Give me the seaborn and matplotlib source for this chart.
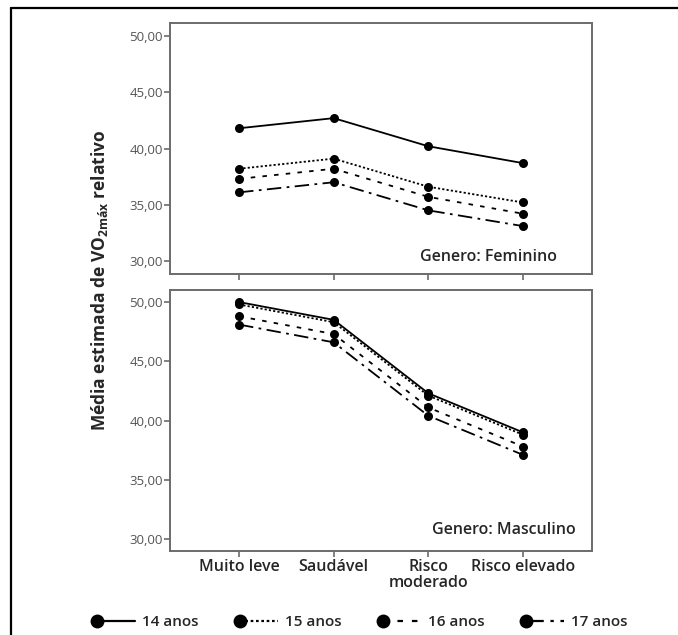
import pandas as pd
import numpy as np
import matplotlib
matplotlib.use('Agg')
import matplotlib.pyplot as plt
import seaborn as sns
from matplotlib.lines import Line2D
from matplotlib.legend_handler import HandlerLine2DCompound
from matplotlib.ticker import FuncFormatter, FixedLocator

# ===================== 数据 =====================
categorias = ['Muito leve', 'Saudável', 'Risco moderado', 'Risco elevado']
rotulos_x = ['Muito leve', 'Saudável', 'Risco\nmoderado', 'Risco elevado']
idades = ['14 anos', '15 anos', '16 anos', '17 anos']

feminino_14 = [41.8, 42.7, 40.2, 38.7]
feminino_15 = [38.2, 39.1, 36.6, 35.2]
feminino_16 = [37.3, 38.2, 35.7, 34.2]
feminino_17 = [36.1, 37.0, 34.5, 33.1]

masculino_14 = [50.0, 48.5, 42.3, 39.0]
masculino_15 = [49.8, 48.3, 42.1, 38.8]
masculino_16 = [48.8, 47.3, 41.1, 37.8]
masculino_17 = [48.1, 46.6, 40.4, 37.1]

yticks = [30, 35, 40, 45, 50]


def montar(series):
    linhas = []
    for idade, vals in zip(idades, series):
        for c, v in zip(categorias, vals):
            linhas.append({'cat': c, 'valor': v, 'idade': idade})
    return pd.DataFrame(linhas)


df_fem = montar([feminino_14, feminino_15, feminino_16, feminino_17])
df_mas = montar([masculino_14, masculino_15, masculino_16, masculino_17])

# ===================== 样式 =====================
sns.set_theme(style='white')
plt.rcParams['font.family'] = ['Open Sans', 'DejaVu Sans']
plt.rcParams['mathtext.fontset'] = 'custom'
plt.rcParams['mathtext.rm'] = 'Open Sans'
plt.rcParams['mathtext.bf'] = 'Open Sans:bold'

tracos = {'14 anos': '', '15 anos': (1.2, 1.2), '16 anos': (2.5, 4.0), '17 anos': (8.0, 3.0, 1.5, 3.0)}
marcadores = {k: 'o' for k in idades}
cor_eixo = '#6b6b6b'

fig = plt.figure(figsize=(6.78, 6.35), dpi=100)
W, H = 678, 635

ax1 = fig.add_axes([170 / W, 1 - 274 / H, 422 / W, 251 / H])
ax2 = fig.add_axes([170 / W, 1 - 551 / H, 422 / W, 261 / H])

for ax, df, lim in [(ax1, df_fem, (28.84, 51.16)), (ax2, df_mas, (28.98, 51.02))]:
    sns.lineplot(data=df, x='cat', y='valor', style='idade', dashes=tracos,
                 markers=marcadores, color='black', markersize=6.5, linewidth=1.3,
                 markeredgewidth=0, sort=False, legend=False, ax=ax)
    ax.set_xlim(-0.73, 3.73)
    ax.set_ylim(*lim)
    ax.yaxis.set_major_locator(FixedLocator(yticks))
    ax.yaxis.set_major_formatter(FuncFormatter(lambda v, p: f'{v:.2f}'.replace('.', ',')))
    ax.set_xlabel('')
    ax.set_ylabel('')
    for s in ax.spines.values():
        s.set_visible(True)
        s.set_color(cor_eixo)
        s.set_linewidth(1.4)
    ax.tick_params(axis='both', direction='out', length=4, width=1.2, color=cor_eixo,
                   left=True, bottom=True)
    ax.tick_params(axis='y', labelsize=9.5, labelcolor='#555555', pad=1)

ax1.set_xticks(range(4))
ax1.set_xticklabels([])
ax2.set_xticks(range(4))
ax2.set_xticklabels(rotulos_x, fontsize=11.5, fontweight='semibold', linespacing=1.0)
ax2.tick_params(axis='x', pad=2)

ax1.text(0.917, 0.068, 'Genero: Feminino', transform=ax1.transAxes, ha='right', va='center',
         fontsize=11.5, fontweight='semibold')
ax2.text(0.962, 0.08, 'Genero: Masculino', transform=ax2.transAxes, ha='right', va='center',
         fontsize=11.5, fontweight='semibold')

fig.text(100 / W, 1 - 280 / H, r'Média estimada de VO$_{\mathregular{2máx}}$ relativo',
         rotation=90, ha='center', va='center', fontsize=12.5, fontweight='bold')

# 外框
fig.add_artist(Line2D([11 / W, 11 / W], [0, 1 - 7.5 / H], transform=fig.transFigure,
                      color='black', linewidth=1.6))
fig.add_artist(Line2D([11 / W, 1], [1 - 7.5 / H, 1 - 7.5 / H], transform=fig.transFigure,
                      color='black', linewidth=1.6))


# 图例: 标记在左边
class MarcadorEsquerda(HandlerLine2DCompound):
    def get_xdata(self, legend, xdescent, ydescent, width, height, fontsize):
        return np.array([-xdescent, -xdescent + width]), np.array([-xdescent])


handles = []
for idade in idades:
    d = tracos[idade]
    h = Line2D([0], [0], color='black', linewidth=1.6, marker='o', markersize=10,
               markeredgewidth=0)
    if d:
        h.set_dashes(d)
    handles.append(h)

fig.legend(handles, idades, loc='center', bbox_to_anchor=(362 / W, 1 - 622 / H), ncol=4,
           frameon=False, handlelength=2.5, handletextpad=0.45,
           columnspacing=2.7, numpoints=1,
           handler_map={Line2D: MarcadorEsquerda()},
           prop={'weight': 'semibold', 'size': 11})

plt.savefig('out.png', dpi=100)
